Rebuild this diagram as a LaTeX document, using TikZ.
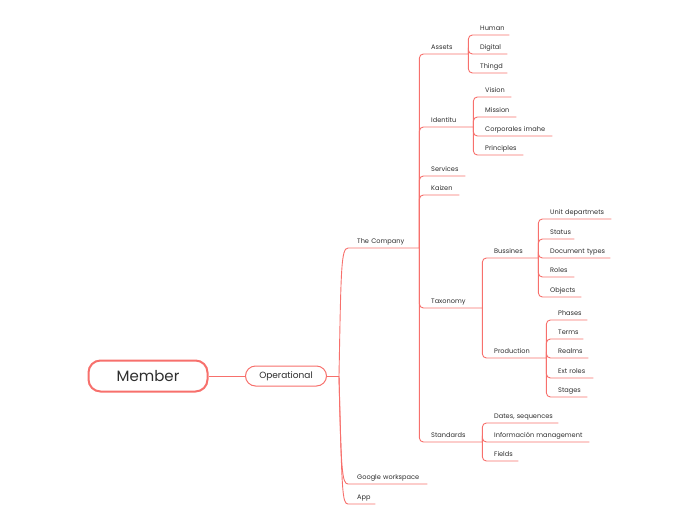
\documentclass[tikz,border=0pt]{standalone}
\usepackage{fontspec}
\setmainfont{Poppins}
\usepackage{xcolor}
\definecolor{cLine}{HTML}{F7706C}
\definecolor{cText}{HTML}{2E2E2E}
\usepackage{tikz}
\usetikzlibrary{positioning}
\tikzset{
  topic-root/.style={draw=cLine,line width=2,rounded corners=12,fill=white,
    minimum width=119,minimum height=31,text=cText,
    font=\fontsize{15}{18}\selectfont},
  topic-main/.style={draw=cLine,line width=1,rounded corners=10,fill=white,
    minimum width=81,minimum height=20,text=cText,
    font=\fontsize{9}{10}\selectfont},
  % sub topics: text sits on its own underline, width = underline length
  topic-sub/.style={anchor=south west,inner xsep=0,inner ysep=4.6,
    text depth=0,text width=#1,align=left,text=cText,
    font=\fontsize{6.6}{8}\selectfont},
  link/.style={draw=cLine,line width=0.9,rounded corners=4},
}

\begin{document}
\begin{tikzpicture}[x=1pt,y=-1pt]
  \useasboundingbox (0,0) rectangle (697,520);
  \node[topic-root] (member) at (148,376) {Member};
  \node[topic-main] (op) at (286,376) {Operational};
  \draw[link] (member) -- (op);
  \draw[link] (op.east) -- ++(12,0) coordinate (hub);

  % level 1
  \node[topic-sub=62] (company) at (357,248) {The Company};
  \node[topic-sub=70] (gws) at (357,484) {Google workspace};
  \node[topic-sub=18] (app) at (357,504) {App};
  \draw[link] (hub) .. controls +(2,-106) and +(-11,0) .. ([xshift=-5]company.south west) -- (company.south east);
  \draw[link] (hub) .. controls +(2,94) and +(-10,0) .. ([xshift=-5]gws.south west) -- (gws.south east);
  \draw[link] (hub) .. controls +(3,114) and +(-10,0) .. ([xshift=-5]app.south west) -- (app.south east);

  % level 2
  \node[topic-sub=37] (assets) at (431,54) {Assets};
  \node[topic-sub=42] (ident) at (431,127) {Identitu};
  \node[topic-sub=34] (serv) at (431,176) {Services};
  \node[topic-sub=28] (kaizen) at (431,195) {Kaizen};
  \node[topic-sub=51] (taxo) at (431,308) {Taxonomy};
  \node[topic-sub=51] (stand) at (431,442) {Standards};
  \foreach \n in {assets,ident,serv,kaizen,taxo,stand}
    \draw[link] (company.south east) |- (\n.south east);

  % Assets
  \node[topic-sub=29] (human) at (480,35) {Human};
  \node[topic-sub=27] (digital) at (480,54) {Digital};
  \node[topic-sub=27] (thingd) at (480,73) {Thingd};
  \foreach \n in {human,digital,thingd}
    \draw[link] (assets.south east) |- (\n.south east);

  % Identitu
  \node[topic-sub=26] (vision) at (485,97) {Vision};
  \node[topic-sub=31] (mission) at (485,117) {Mission};
  \node[topic-sub=67] (corp) at (485,136) {Corporales imahe};
  \node[topic-sub=38] (princ) at (485,155) {Principles};
  \foreach \n in {vision,mission,corp,princ}
    \draw[link] (ident.south east) |- (\n.south east);

  % Taxonomy
  \node[topic-sub=44] (buss) at (494,258) {Bussines};
  \node[topic-sub=52] (prod) at (494,358) {Production};
  \foreach \n in {buss,prod}
    \draw[link] (taxo.south east) |- (\n.south east);

  \node[topic-sub=61] (unit) at (550,219) {Unit departmets};
  \node[topic-sub=24] (status) at (550,239) {Status};
  \node[topic-sub=60] (doct) at (550,258) {Document types};
  \node[topic-sub=24] (roles) at (550,277) {Roles};
  \node[topic-sub=31] (objects) at (550,297) {Objects};
  \foreach \n in {unit,status,doct,roles,objects}
    \draw[link] (buss.south east) |- (\n.south east);

  \node[topic-sub=29] (phases) at (558,320) {Phases};
  \node[topic-sub=25] (terms) at (558,339) {Terms};
  \node[topic-sub=30] (realms) at (558,358) {Realms};
  \node[topic-sub=35] (extr) at (558,378) {Ext roles};
  \node[topic-sub=29] (stages) at (558,397) {Stages};
  \foreach \n in {phases,terms,realms,extr,stages}
    \draw[link] (prod.south east) |- (\n.south east);

  % Standards
  \node[topic-sub=64] (dates) at (494,423) {Dates, sequences};
  \node[topic-sub=95] (info) at (494,442) {Información management};
  \node[topic-sub=24] (fields) at (494,461) {Fields};
  \foreach \n in {dates,info,fields}
    \draw[link] (stand.south east) |- (\n.south east);
\end{tikzpicture}
\end{document}
